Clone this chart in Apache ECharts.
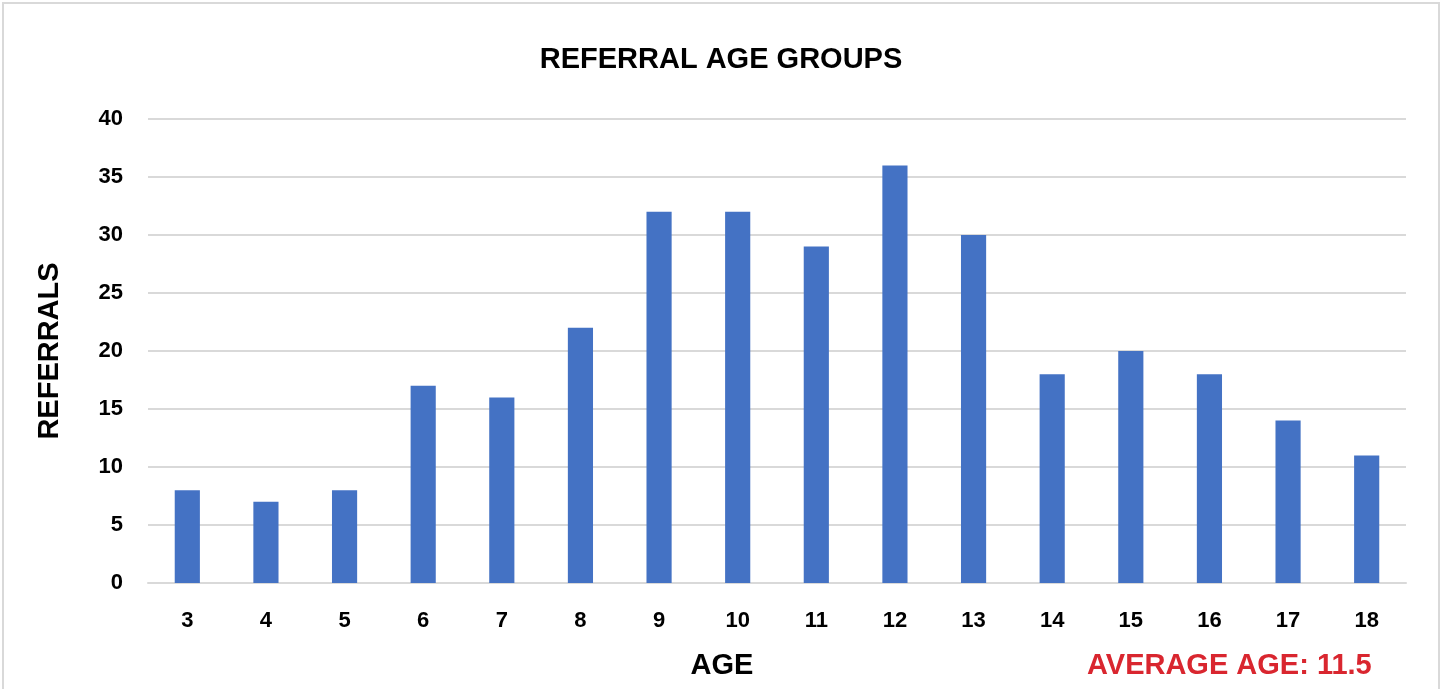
<!DOCTYPE html>
<html>
<head>
<meta charset="utf-8">
<script src="https://cdn.jsdelivr.net/npm/echarts@6/dist/echarts.min.js"></script>
<style>
  html, body { margin: 0; padding: 0; background: #fff; }
  #chart { width: 1442px; height: 689px; }
</style>
</head>
<body>
<div id="chart"></div>
<script>
// Referral counts by age
const ages = ['3', '4', '5', '6', '7', '8', '9', '10', '11', '12', '13', '14', '15', '16', '17', '18'];
const referrals = [8, 7, 8, 17, 16, 22, 32, 32, 29, 36, 30, 18, 20, 18, 14, 11];
const titleText = 'REFERRAL AGE GROUPS';
const xAxisName = 'AGE';
const yAxisName = 'REFERRALS';
const averageNote = 'AVERAGE AGE: 11.5';

const font = '"Liberation Sans", Arial, Helvetica, sans-serif';

const chart = echarts.init(document.getElementById('chart'), null, { renderer: 'canvas' });
chart.setOption({
  animation: false,
  backgroundColor: '#ffffff',
  title: {
    text: titleText,
    left: 'center',
    top: 40,
    textStyle: { fontFamily: font, fontWeight: 'bold', fontSize: 29, color: '#000' }
  },
  grid: { left: 148, right: 36, top: 119, bottom: 106, outerBoundsMode: 'none', containLabel: false },
  xAxis: {
    type: 'category',
    data: ages,
    name: xAxisName,
    nameLocation: 'middle',
    nameGap: 68,
    // axis title sits a little left of the plot centre
    nameTextStyle: { fontFamily: font, fontWeight: 'bold', fontSize: 29, color: '#000', padding: [0, 110, 0, 0] },
    axisLine: { show: true, lineStyle: { color: '#d9d9d9', width: 2 } },
    axisTick: { show: false },
    axisLabel: { fontFamily: font, fontWeight: 'bold', fontSize: 22, color: '#000', margin: 27 }
  },
  yAxis: {
    type: 'value',
    min: 0,
    max: 40,
    interval: 5,
    name: yAxisName,
    nameLocation: 'middle',
    nameGap: 84,
    nameTextStyle: { fontFamily: font, fontWeight: 'bold', fontSize: 29, color: '#000' },
    axisLine: { show: false },
    axisTick: { show: false },
    axisLabel: { fontFamily: font, fontWeight: 'bold', fontSize: 22, color: '#000', margin: 25 },
    splitLine: { lineStyle: { color: '#d9d9d9', width: 2 } }
  },
  series: [{
    type: 'bar',
    data: referrals,
    barWidth: '32%',
    itemStyle: { color: '#4472c4' }
  }],
  graphic: [
    {
      type: 'rect',
      shape: { x: 3, y: 3, width: 1436, height: 700 },
      style: { fill: 'none', stroke: '#d9d9d9', lineWidth: 2 },
      silent: true
    },
    {
      type: 'text',
      left: 1087,
      top: 651,
      style: {
        text: averageNote,
        fontFamily: font,
        fontWeight: 'bold',
        fontSize: 29,
        fill: '#d9262f'
      }
    }
  ]
});
</script>
</body>
</html>
